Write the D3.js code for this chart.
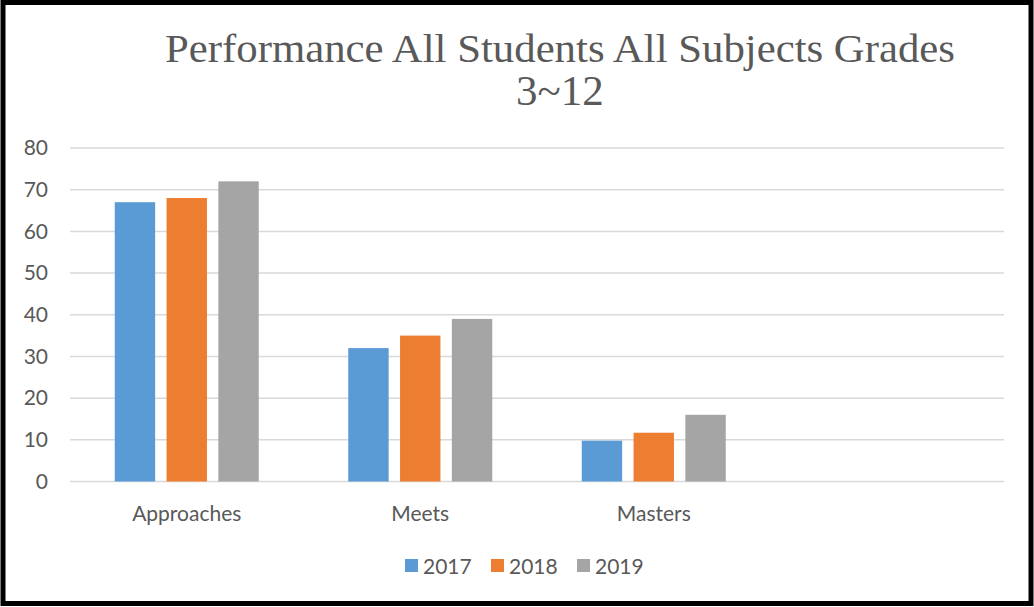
<!DOCTYPE html>
<html>
<head>
<meta charset="utf-8">
<script src="https://cdn.jsdelivr.net/npm/d3@7"></script>
<style>
  html, body { margin: 0; padding: 0; background: #fff; }
  svg { display: block; }
</style>
</head>
<body>
<svg id="chart" width="1034" height="607"></svg>
<script>
const categories = ["Approaches", "Meets", "Masters", ""];
const years = ["2017", "2018", "2019"];
const values2017 = [67, 32, 9.8, null];
const values2018 = [68, 35, 11.7, null];
const values2019 = [72, 39, 16, null];
const yTicks = [0, 10, 20, 30, 40, 50, 60, 70, 80];
const colors = ["#5b9bd5", "#ed7d31", "#a5a5a5"];
const titleLines = ["Performance All Students All Subjects Grades", "3~12"];

const series = [values2017, values2018, values2019];
const svg = d3.select("#chart");
const W = 1034, H = 607;
const sans = "Lato, 'Open Sans', sans-serif";

svg.append("rect").attr("x", 0).attr("y", 0).attr("width", W).attr("height", H).attr("fill", "#fff");

const plot = { left: 70, right: 1004, top: 148, bottom: 481.5 };

const x = d3.scaleBand().domain(categories).range([plot.left, plot.right]).padding(0);
const groupW = 144;
const x1 = d3.scaleBand().domain(years).range([0, groupW]).paddingInner(0.22).paddingOuter(0);
const y = d3.scaleLinear().domain([0, 80]).range([plot.bottom, plot.top]);

// gridlines
svg.append("g").selectAll("line").data(yTicks).join("line")
  .attr("x1", plot.left).attr("x2", plot.right)
  .attr("y1", d => y(d)).attr("y2", d => y(d))
  .attr("stroke", "#d9d9d9").attr("stroke-width", 1.5);

// y labels
const yAxis = d3.axisLeft(y).tickValues(yTicks).tickSize(0).tickPadding(0);
const gy = svg.append("g").attr("transform", "translate(48,0)").call(yAxis);
gy.select(".domain").remove();
gy.selectAll("text").attr("font-family", sans).attr("font-size", 21).attr("fill", "#595959");

// bars
const groups = svg.append("g").selectAll("g").data(categories).join("g")
  .attr("transform", d => `translate(${x(d) + (x.bandwidth() - groupW) / 2},0)`);
groups.selectAll("rect")
  .data((c, ci) => years.map((yr, si) => ({ yr, si, v: series[si][ci] })).filter(d => d.v != null))
  .join("rect")
  .attr("x", d => x1(d.yr))
  .attr("width", x1.bandwidth())
  .attr("y", d => y(d.v))
  .attr("height", d => y(0) - y(d.v))
  .attr("fill", d => colors[d.si]);

// x labels
const xAxis = d3.axisBottom(x).tickSize(0).tickPadding(0);
const gx = svg.append("g").attr("transform", `translate(0,${plot.bottom + 39})`).call(xAxis);
gx.select(".domain").remove();
gx.selectAll("text").attr("font-family", sans).attr("font-size", 21).attr("fill", "#595959").attr("dy", 0);

// legend
const legendX = [405, 491, 577];
const lg = svg.append("g").selectAll("g").data(years).join("g")
  .attr("transform", (d, i) => `translate(${legendX[i]},559)`);
lg.append("rect").attr("width", 13).attr("height", 13).attr("fill", (d, i) => colors[i]);
lg.append("text").attr("x", 18).attr("y", 14.5)
  .attr("font-family", sans).attr("font-size", 21).attr("fill", "#595959")
  .text(d => d);

// title
const tt = svg.append("g");
tt.append("text").attr("x", 560).attr("y", 62).attr("text-anchor", "middle")
  .attr("font-family", "'Liberation Serif', 'DejaVu Serif', serif").attr("font-size", 40).attr("fill", "#595959")
  .attr("textLength", 790).attr("lengthAdjust", "spacingAndGlyphs")
  .text(titleLines[0]);
tt.append("text").attr("x", 560).attr("y", 105).attr("text-anchor", "middle")
  .attr("font-family", "'Liberation Serif', 'DejaVu Serif', serif").attr("font-size", 43).attr("fill", "#595959")
  .text(titleLines[1]);

// border
svg.append("rect").attr("x", 3).attr("y", 2.5).attr("width", W - 6).attr("height", H - 6)
  .attr("fill", "none").attr("stroke", "#000").attr("stroke-width", 5);
</script>
</body>
</html>
